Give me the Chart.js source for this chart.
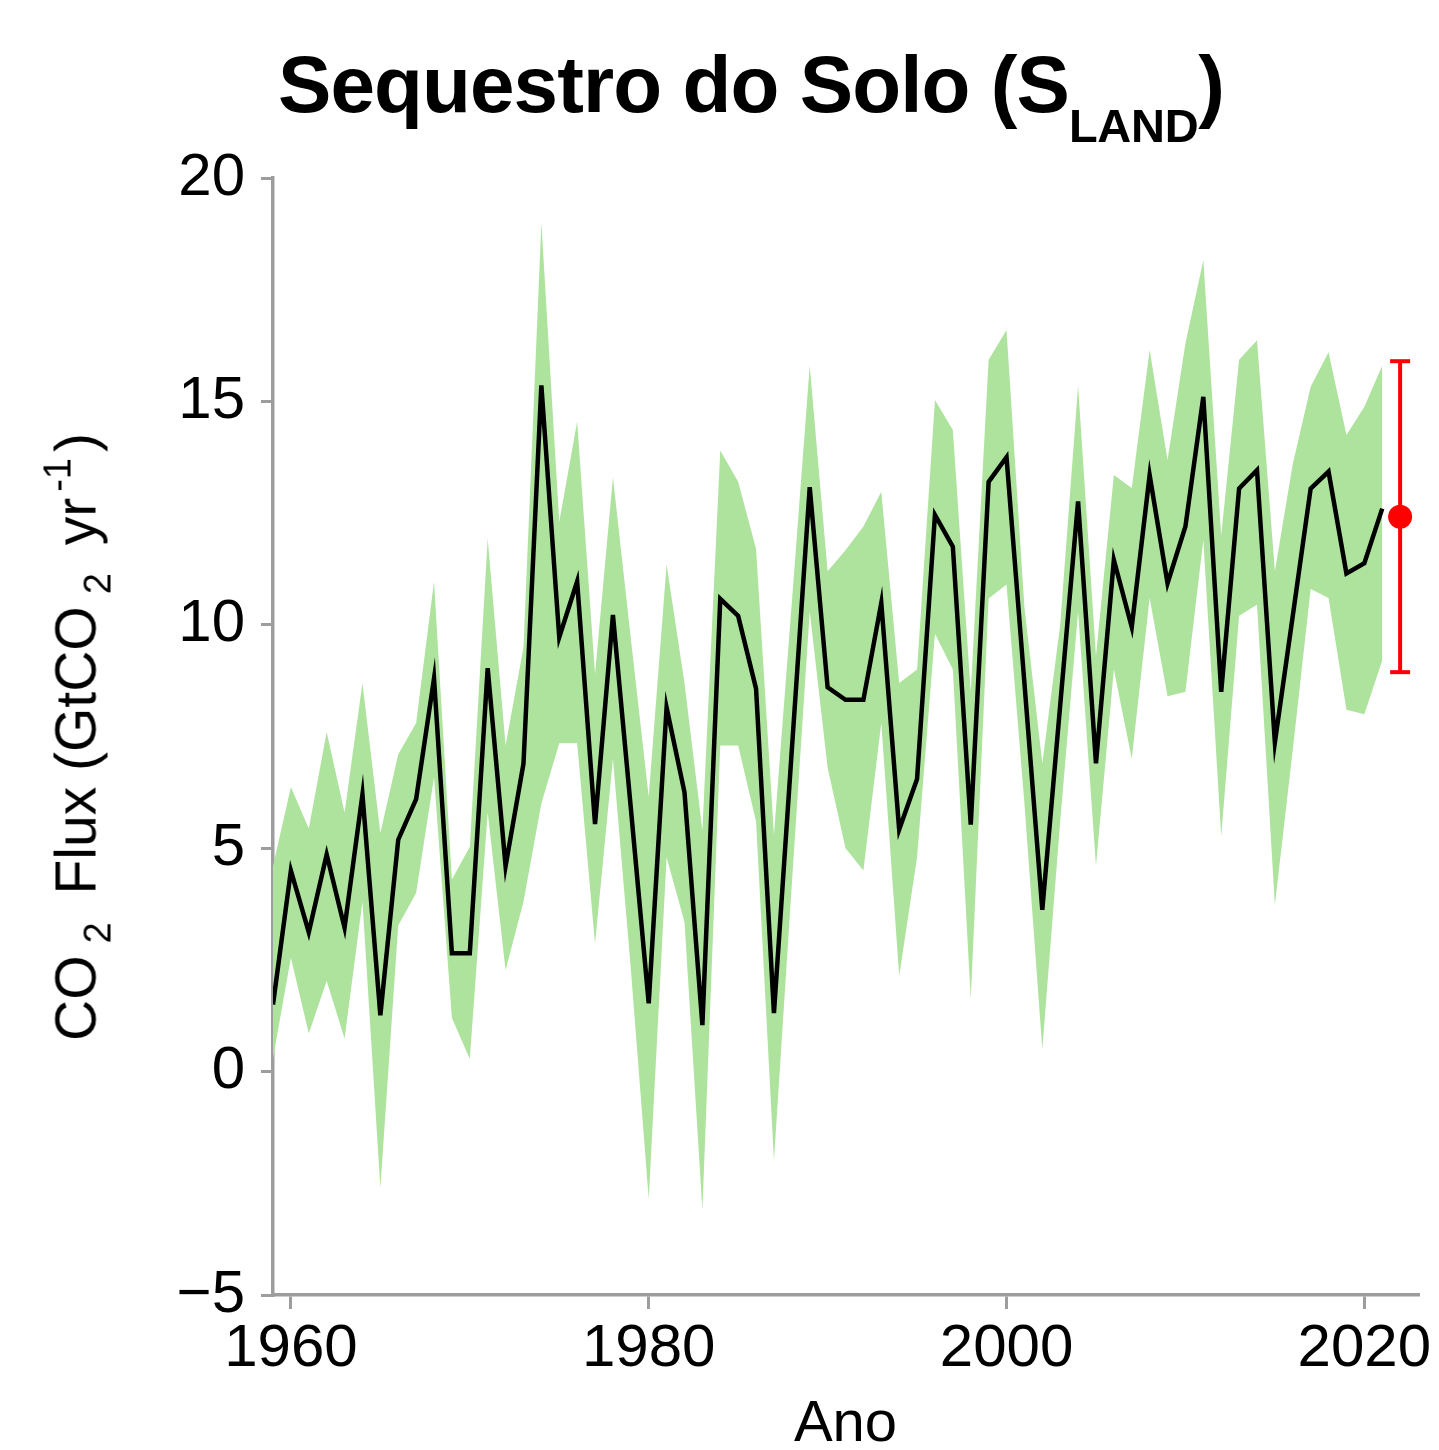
<!DOCTYPE html>
<html>
<head>
<meta charset="utf-8">
<script src="https://cdn.jsdelivr.net/npm/chart.js@4.4.0/dist/chart.umd.min.js"></script>
<style>
  html, body { margin:0; padding:0; background:#ffffff; }
  body { width:1439px; height:1450px; position:relative; overflow:hidden; }
  #c { position:absolute; left:0; top:0; }
  #title { position:absolute; left:278px; top:45px; font-family:'Liberation Sans', Arial, sans-serif; font-weight:700; font-size:80px; line-height:80px; letter-spacing:-0.9px; white-space:nowrap; color:#000; }
  #title .sub { font-size:47px; vertical-align:-30px; letter-spacing:-0.3px; }
  #ylab { position:absolute; left:78px; top:737px; transform:translate(-50%,-50%) rotate(-90deg); font-family:'Liberation Sans', Arial, sans-serif; font-size:57px; line-height:57px; white-space:nowrap; color:#000; }
  #ylab sub { font-size:38px; vertical-align:-15px; margin:0 12px; }
  #ylab sup { font-size:38px; vertical-align:25px; margin:0 6px; }
</style>
</head>
<body>
<canvas id="c" width="1439" height="1450"></canvas>
<div id="title">Sequestro do Solo (S<span class="sub">LAND</span>)</div>
<div id="ylab">CO<sub>2</sub> Flux (GtCO<sub>2</sub> yr<sup>-1</sup>)</div>
<script>
// ---- Data ----
const years = [1959,1960,1961,1962,1963,1964,1965,1966,1967,1968,1969,1970,1971,1972,1973,1974,1975,1976,1977,1978,1979,1980,1981,1982,1983,1984,1985,1986,1987,1988,1989,1990,1991,1992,1993,1994,1995,1996,1997,1998,1999,2000,2001,2002,2003,2004,2005,2006,2007,2008,2009,2010,2011,2012,2013,2014,2015,2016,2017,2018,2019,2020,2021];
const sland = [1.5,4.5,3.12,4.86,3.22,6.2,1.26,5.19,6.1,8.8,2.65,2.65,9.03,4.6,6.89,15.36,9.72,10.97,5.54,10.22,5.9,1.53,8.15,6.25,1.04,10.58,10.2,8.57,1.31,7.2,13.08,8.6,8.32,8.32,10.49,5.42,6.55,12.46,11.75,5.53,13.2,13.75,8.7,3.62,8.2,12.76,6.9,11.45,9.95,13.35,10.93,12.2,15.1,8.5,13.05,13.46,7.37,10.2,13.05,13.43,11.15,11.38,12.6];
const slandUpper = [4.6,6.37,5.44,7.6,5.8,8.7,5.34,7.1,7.8,10.97,4.3,5.03,11.93,7.3,9.5,19.0,12.3,14.55,8.9,13.3,9.7,6.15,11.35,8.7,5.4,13.9,13.2,11.7,5.3,10.5,15.8,11.2,11.67,12.2,12.98,8.7,9.0,15.03,14.36,8.5,15.93,16.6,10.4,6.9,10.0,15.35,9.3,13.35,13.06,16.15,13.69,16.3,18.16,12.0,15.93,16.37,11.2,13.6,15.33,16.1,14.25,14.88,15.8];
const slandLower = [0.3,2.55,0.85,2.03,0.74,3.8,-2.6,3.27,4.0,6.58,1.2,0.28,5.8,2.27,3.8,6.0,7.35,7.35,2.86,7.0,2.3,-2.85,4.8,3.35,-3.1,7.3,7.3,5.6,-1.99,4.2,10.3,6.8,5.0,4.5,7.8,2.14,4.8,9.8,9.0,1.62,10.59,10.9,6.0,0.5,5.6,10.3,4.6,9.0,7.0,10.6,8.4,8.5,11.9,5.27,10.2,10.45,3.73,7.2,10.8,10.6,8.1,8.0,9.2];
// Projection for 2022 with uncertainty
const projYear = [2022];
const projValue = [12.42];
const projLow = [8.94];
const projHigh = [15.9];
// Axis ticks
const xTicks = [1960, 1980, 2000, 2020];
const yTicks = [-5, 0, 5, 10, 15, 20];

const pts = (vals) => years.map((yr, i) => ({ x: yr, y: vals[i] }));

const axisColor = '#9d9d9d';
const tickFont = { family: "'Liberation Sans', Arial, sans-serif", size: 60, lineHeight: 1.2 };

new Chart(document.getElementById('c'), {
  type: 'line',
  data: {
    datasets: [
      { label: 'lower', data: pts(slandLower), borderWidth: 0, pointRadius: 0, fill: false, order: 10, tension: 0 },
      { label: 'upper', data: pts(slandUpper), borderWidth: 0, pointRadius: 0, fill: '-1', backgroundColor: '#aee39e', order: 10, tension: 0 },
      { label: 'SLAND', data: pts(sland), borderColor: '#000000', borderWidth: 4.5, pointRadius: 0, fill: false, order: 2, tension: 0, borderJoinStyle: 'miter', borderCapStyle: 'butt' },
      { label: 'range', data: [{ x: projYear[0], y: projLow[0] }, { x: projYear[0], y: projHigh[0] }], borderColor: '#ff0000', borderWidth: 4, pointStyle: 'line', pointRadius: 10, pointBorderWidth: 4, pointBorderColor: '#ff0000', fill: false, order: 1 },
      { label: 'projection', data: projYear.map((yr, i) => ({ x: yr, y: projValue[i] })), showLine: false, pointRadius: 12, pointBackgroundColor: '#ff0000', pointBorderWidth: 0, order: 0 }
    ]
  },
  options: {
    responsive: false,
    devicePixelRatio: 1,
    animation: false,
    layout: { padding: { top: 178, right: 21, bottom: 0, left: 0 } },
    plugins: { legend: { display: false }, tooltip: { enabled: false }, title: { display: false } },
    scales: {
      x: {
        type: 'linear', min: 1959, max: 2023,
        afterBuildTicks: (s) => { s.ticks = xTicks.map(v => ({ value: v })); },
        afterFit: (s) => { s.height = 155; },
        grid: { display: true, drawOnChartArea: false, drawTicks: true, tickLength: 14, color: axisColor, lineWidth: 3 },
        border: { display: true, color: axisColor, width: 3.5 },
        ticks: { font: tickFont, color: '#000', padding: 4, maxRotation: 0, autoSkip: false, callback: (v) => String(v) },
        title: { display: true, text: 'Ano', font: { family: "'Liberation Sans', Arial, sans-serif", size: 58, lineHeight: 1 }, color: '#000', padding: { top: 0, bottom: -4 } }
      },
      y: {
        type: 'linear', min: -5, max: 20,
        afterBuildTicks: (s) => { s.ticks = yTicks.map(v => ({ value: v })); },
        afterFit: (s) => { s.width = 273; },
        grid: { display: true, drawOnChartArea: false, drawTicks: true, tickLength: 12, color: axisColor, lineWidth: 3 },
        border: { display: true, color: axisColor, width: 3.5 },
        ticks: { font: tickFont, color: '#000', padding: 16, callback: (v) => (v < 0 ? '\u2212' + Math.abs(v) : String(v)) }
      }
    }
  }
});
</script>
</body>
</html>
